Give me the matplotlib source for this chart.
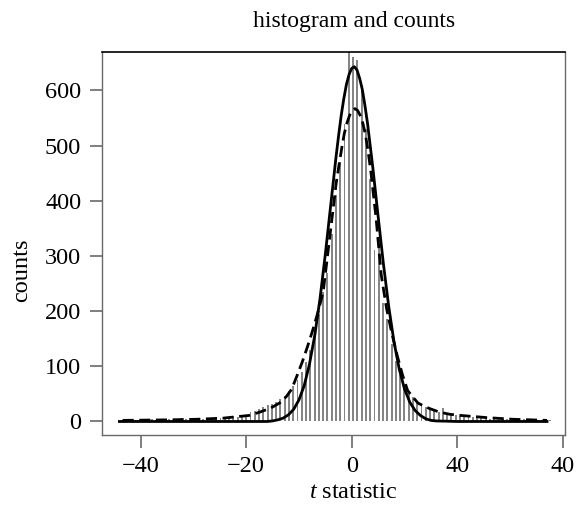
import numpy as np
import matplotlib
matplotlib.use("Agg")
import matplotlib.pyplot as plt

plt.rcParams['font.family'] = ['Liberation Serif', 'DejaVu Serif']
plt.rcParams['mathtext.fontset'] = 'custom'
plt.rcParams['mathtext.it'] = 'Liberation Serif:italic'
plt.rcParams['mathtext.rm'] = 'Liberation Serif'

# histogram bins: first centre and width
bin_first = -43.48
bin_width = 0.81
counts = [3, 2, 4, 3, 2, 5, 3, 4, 3, 2, 4, 5, 3, 4, 6, 4, 5,
          5, 6, 4, 7, 6, 8, 7, 9, 8, 10, 9, 12, 11,
          17, 19, 22, 26, 29, 32, 36, 40, 47, 55, 65, 75, 90, 108, 130, 158,
          195, 235, 270, 340, 410, 470, 540, 700, 660, 655, 600, 530, 440, 310,
          330, 215, 185, 140, 110, 85, 65, 52, 45, 38, 32, 27, 23, 20, 17, 25,
          15, 13, 11, 10, 9, 10, 8, 7, 8, 6,
          5, 6, 4, 5, 4, 3, 4, 3, 4, 3, 2, 3, 2, 3, 2]

# solid curve (fitted normal)
solid_x = [-44, -30, -20, -16, -15, -14, -13, -12, -11, -10, -9, -8, -7, -6, -5, -4,
           -3, -2.5, -2, -1.5, -1, -0.5, 0, 0.5, 1, 1.5, 2, 2.5, 3, 4, 5, 6, 7, 8,
           9, 10, 11, 12, 13, 14, 15, 16, 20, 30, 37]
solid_y = [0, 0, 0, 0, 1, 3, 6, 12, 22, 39, 65, 104, 156, 223, 303, 390,
           477, 517, 554, 585, 611, 629, 640, 643, 637, 622, 602, 573, 540, 460, 372,
           286, 209, 145, 95, 59, 35, 20, 11, 5, 2, 1, 0, 0, 0]

# dashed curve (smoothed density)
dash_x = [-43.4, -34.4, -29.4, -24.4, -19.4, -17.4, -15.4, -13.4, -12.4, -11.4, -10.4, -9.4,
          -8.4, -7.4, -6.4, -5.4, -4.9, -4.4, -3.9, -3.4, -2.9, -2.4, -1.9, -1.4, -0.9,
          -0.4, 0.1, 0.6, 1.1, 1.6, 2.1, 2.6, 3.1, 3.6, 4.6, 5.6, 6.6, 7.6, 8.6, 9.6,
          10.6, 11.6, 12.6, 14.6, 16.6, 18.6, 20.6, 25.6, 30.6, 37.0]
dash_y = [2, 3, 4, 6, 11, 17, 24, 35, 45, 58, 82, 107,
          135, 165, 198, 235, 275, 315, 355, 395, 435, 465, 495, 522, 541,
          555, 563, 567, 564, 555, 541, 520, 490, 455, 370, 265, 205, 160, 120, 85,
          56, 44, 33, 24, 17, 13, 11, 7, 4, 2]

xtick_pos = [-40, -20, 0, 20, 40]
xtick_lab = ['\u221240', '\u221220', '0', '40', '40']
ytick_pos = [0, 100, 200, 300, 400, 500, 600]

W, H = 582, 511
fig = plt.figure(figsize=(W / 100, H / 100), dpi=100)
ax = fig.add_axes([102 / W, 1 - 435 / H, (565 - 102) / W, (435 - 52) / H])

centres = bin_first + bin_width * np.arange(len(counts))
ax.bar(centres, counts, width=0.36, color='#858585', edgecolor='none', zorder=1)
ax.plot(solid_x, solid_y, color='black', lw=2.0, zorder=3, solid_joinstyle='round')
ax.plot(dash_x, dash_y, color='black', lw=2.0, dashes=(4, 2), zorder=3)

ax.set_xlim(-47.3, 40.4)
ax.set_ylim(-24.5, 669.7)
ax.set_xticks(xtick_pos)
ax.set_xticklabels(xtick_lab)
ax.set_yticks(ytick_pos)

for side in ['left', 'bottom', 'right']:
    ax.spines[side].set_color('#6a6a6a')
    ax.spines[side].set_linewidth(1.0)
ax.spines['top'].set_color('black')
ax.spines['top'].set_linewidth(1.2)

ax.tick_params(axis='both', direction='out', length=9, width=1.2, color='#6a6a6a',
               labelsize=17.5, pad=6)

fig.text(354 / W, 1 - 22 / H, 'histogram and counts', fontsize=17,
         ha='center', va='center')
ax.set_xlabel('$t$ statistic', fontsize=17.5)
ax.xaxis.set_label_coords((353 - 102) / (565 - 102), -(492 - 435) / (435 - 52))
ax.xaxis.label.set_va('center')
ax.set_ylabel('counts', fontsize=17.5)
ax.yaxis.set_label_coords(-(102 - 22) / (565 - 102), (435 - 270) / (435 - 52))
ax.yaxis.label.set_va('center')

fig.savefig('out.png', dpi=100)
